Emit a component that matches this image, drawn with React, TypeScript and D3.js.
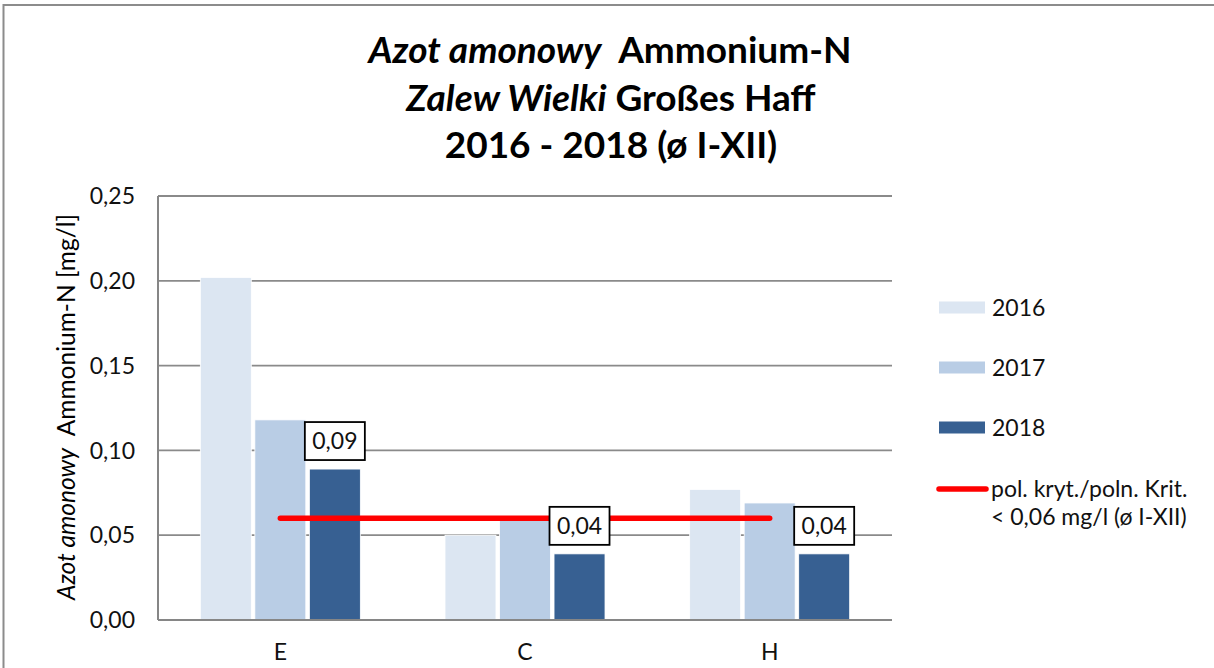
import React, { useRef, useEffect } from "react";
import * as d3 from "d3";

const categories = ["E", "C", "H"];
const years = ["2016", "2017", "2018"];
const values2016 = [0.202, 0.05, 0.077];
const values2017 = [0.118, 0.06, 0.069];
const values2018 = [0.089, 0.039, 0.039];
const threshold = [0.06, 0.06, 0.06];
const yTicks = [0, 0.05, 0.1, 0.15, 0.2, 0.25];
const colors = ["#dce6f2", "#b9cde5", "#376092"];
const thresholdLabel = ["pol. kryt./poln. Krit.", "< 0,06 mg/l (ø I-XII)"];

const FONT = "Lato, 'Open Sans', sans-serif";

const App = () => {
  const chartRef = useRef<SVGSVGElement>(null);

  useEffect(() => {
    const width = 1214;
    const height = 668;
    const svg = d3.select(chartRef.current);
    svg.selectAll("*").remove();

    const locale = d3.formatLocale({
      decimal: ",",
      thousands: " ",
      grouping: [3],
      currency: ["", ""],
    });
    const fmt = locale.format(".2f");

    const series = [values2016, values2017, values2018];

    const x0 = d3
      .scaleBand()
      .domain(categories)
      .range([158, 892])
      .paddingInner(0.346)
      .paddingOuter(0.173);

    const x1 = d3
      .scaleBand()
      .domain(years)
      .range([0, x0.bandwidth()])
      .paddingInner(0.065);

    const y = d3.scaleLinear().domain([0, 0.25]).range([620, 196]);

    // outer chart border (right/bottom fall outside the picture)
    svg
      .append("rect")
      .attr("x", 3.5)
      .attr("y", 5)
      .attr("width", 1400)
      .attr("height", 900)
      .attr("fill", "white")
      .attr("stroke", "#8c8c8c")
      .attr("stroke-width", 2);

    // title
    const title = svg
      .append("text")
      .attr("text-anchor", "middle")
      .attr("font-family", FONT)
      .attr("font-weight", "bold")
      .attr("font-size", 37)
      .attr("fill", "#000")
      .style("white-space", "pre");
    const l1 = title.append("tspan").attr("x", 610).attr("y", 63);
    l1.append("tspan").attr("font-style", "italic").text("Azot amonowy");
    l1.append("tspan").text("  Ammonium-N");
    const l2 = title.append("tspan").attr("x", 611).attr("y", 111);
    l2.append("tspan").attr("font-style", "italic").text("Zalew Wielki");
    l2.append("tspan").text(" Großes Haff");
    title.append("tspan").attr("x", 611).attr("y", 158).text("2016 - 2018 (ø I-XII)");

    // gridlines
    svg
      .append("g")
      .selectAll("line")
      .data(yTicks.slice(1))
      .join("line")
      .attr("x1", 158)
      .attr("x2", 892)
      .attr("y1", (d) => y(d))
      .attr("y2", (d) => y(d))
      .attr("stroke", "#8a8a8a")
      .attr("stroke-width", 1.8);

    // y tick labels
    svg
      .append("g")
      .selectAll("text")
      .data(yTicks)
      .join("text")
      .attr("x", 135)
      .attr("y", (d) => y(d))
      .attr("dy", "0.36em")
      .attr("text-anchor", "end")
      .attr("font-family", FONT)
      .attr("font-size", 23)
      .attr("fill", "#111")
      .text((d) => fmt(d));

    // y axis title
    const yt = svg
      .append("text")
      .attr("transform", "translate(75,407) rotate(-90)")
      .attr("text-anchor", "middle")
      .attr("font-family", FONT)
      .attr("font-size", 24.5)
      .attr("fill", "#000")
      .style("white-space", "pre");
    yt.append("tspan").attr("font-style", "italic").text("Azot amonowy");
    yt.append("tspan").text("  Ammonium-N [mg/l]");

    // bars
    svg
      .append("g")
      .selectAll("g")
      .data(series)
      .join("g")
      .attr("fill", (_, i) => colors[i])
      .each(function (vals, si) {
        d3.select(this)
          .selectAll("rect")
          .data(vals)
          .join("rect")
          .attr("x", (_, ci) => (x0(categories[ci]) ?? 0) + (x1(years[si]) ?? 0))
          .attr("width", x1.bandwidth())
          .attr("y", (d) => y(d))
          .attr("height", (d) => y(0) - y(d))
          .attr("stroke", "white")
          .attr("stroke-width", 0.8);
      });

    // axes lines
    svg
      .append("line")
      .attr("x1", 158)
      .attr("x2", 892)
      .attr("y1", y(0))
      .attr("y2", y(0))
      .attr("stroke", "#868686")
      .attr("stroke-width", 2);
    svg
      .append("line")
      .attr("x1", 158)
      .attr("x2", 158)
      .attr("y1", y(0.25))
      .attr("y2", y(0))
      .attr("stroke", "#868686")
      .attr("stroke-width", 2);

    // category labels
    svg
      .append("g")
      .selectAll("text")
      .data(categories)
      .join("text")
      .attr("x", (d) => (x0(d) ?? 0) + x0.bandwidth() / 2)
      .attr("y", 660)
      .attr("text-anchor", "middle")
      .attr("font-family", FONT)
      .attr("font-size", 23)
      .attr("fill", "#111")
      .text((d) => d);

    // threshold line
    const line = d3
      .line<number>()
      .x((_, i) => (x0(categories[i]) ?? 0) + x0.bandwidth() / 2)
      .y((d) => y(d));
    svg
      .append("path")
      .attr("d", line(threshold))
      .attr("fill", "none")
      .attr("stroke", "#ff0000")
      .attr("stroke-width", 5.5)
      .attr("stroke-linecap", "round");

    // data labels for 2018
    const lbl = svg
      .append("g")
      .selectAll("g")
      .data(values2018)
      .join("g")
      .attr(
        "transform",
        (d, ci) =>
          `translate(${(x0(categories[ci]) ?? 0) + (x1("2018") ?? 0) + x1.bandwidth() / 2},${y(d) - 9})`
      );
    lbl
      .append("rect")
      .attr("x", -30)
      .attr("y", -38)
      .attr("width", 60)
      .attr("height", 38)
      .attr("fill", "white")
      .attr("stroke", "#000")
      .attr("stroke-width", 1.8);
    lbl
      .append("text")
      .attr("y", -19)
      .attr("dy", "0.36em")
      .attr("text-anchor", "middle")
      .attr("font-family", FONT)
      .attr("font-size", 23)
      .attr("fill", "#111")
      .text((d) => fmt(d));

    // legend
    const legend = svg.append("g");
    years.forEach((yr, i) => {
      const cy = 307.5 + i * 60;
      legend
        .append("rect")
        .attr("x", 939)
        .attr("y", cy - 6)
        .attr("width", 46)
        .attr("height", 12)
        .attr("fill", colors[i]);
      legend
        .append("text")
        .attr("x", 992)
        .attr("y", cy)
        .attr("dy", "0.36em")
        .attr("font-family", FONT)
        .attr("font-size", 23)
        .attr("fill", "#111")
        .text(yr);
    });
    legend
      .append("line")
      .attr("x1", 939)
      .attr("x2", 986)
      .attr("y1", 489)
      .attr("y2", 489)
      .attr("stroke", "#ff0000")
      .attr("stroke-width", 5.5)
      .attr("stroke-linecap", "round");
    legend
      .append("g")
      .selectAll("text")
      .data(thresholdLabel)
      .join("text")
      .attr("x", 991)
      .attr("y", (_, i) => 489 + i * 28)
      .attr("dy", "0.36em")
      .attr("font-family", FONT)
      .attr("font-size", 23)
      .attr("fill", "#111")
      .text((d) => d);

    svg.attr("width", width).attr("height", height);
  }, []);

  return (
    <svg
      ref={chartRef}
      style={{ position: "absolute", left: 0, top: 0, display: "block" }}
    />
  );
};

export default App;
